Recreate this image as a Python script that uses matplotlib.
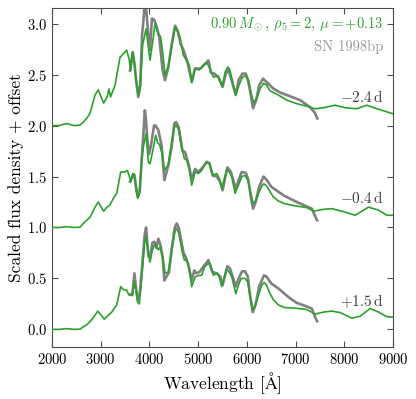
import numpy as np
import matplotlib
matplotlib.use('Agg')
import matplotlib.pyplot as plt

plt.rcParams['font.family'] = 'serif'
plt.rcParams['font.serif'] = ['cmr10']
plt.rcParams['mathtext.fontset'] = 'cm'
plt.rcParams['axes.formatter.use_mathtext'] = True

# model spectra (green), values already include the offset
w_mod_bot = [2000, 2150, 2300, 2450, 2575, 2643, 2710, 2780, 2883, 2940, 2990, 3074, 3157, 3225, 3328, 3410,
             3465, 3533, 3575, 3601, 3650, 3691, 3725, 3755, 3793, 3810, 3862, 3900, 3930, 3977, 4012, 4060,
             4115, 4183, 4217, 4272, 4320, 4388, 4457, 4525, 4560, 4605, 4663, 4716, 4765, 4812, 4867, 4936,
             5004, 5073, 5127, 5196, 5244, 5312, 5381, 5429, 5484, 5538, 5586, 5634, 5689, 5737, 5771, 5826,
             5880, 5962, 6017, 6065, 6113, 6168, 6236, 6305, 6353, 6400, 6475, 6543, 6646, 6769, 6955, 7229,
             7400, 7571, 7742, 7913, 8153, 8324, 8529, 8700, 8871, 9000]
f_mod_bot = [0.0, 0.0, 0.008, 0.0, 0.003, 0.025, 0.045, 0.075, 0.14, 0.18, 0.15, 0.10, 0.14, 0.17, 0.24, 0.42,
             0.39, 0.385, 0.34, 0.345, 0.33, 0.47, 0.385, 0.27, 0.25, 0.35, 0.62, 0.85, 0.91, 0.745, 0.66, 0.78,
             0.84, 0.78, 0.81, 0.71, 0.55, 0.565, 0.78, 0.97, 0.99, 0.94, 0.78, 0.68, 0.68, 0.60, 0.42, 0.515,
             0.53, 0.53, 0.61, 0.645, 0.645, 0.53, 0.555, 0.52, 0.42, 0.515, 0.59, 0.565, 0.515, 0.42, 0.35, 0.435,
             0.50, 0.50, 0.465, 0.32, 0.19, 0.22, 0.335, 0.435, 0.46, 0.435, 0.35, 0.29, 0.24, 0.215, 0.21, 0.195,
             0.15, 0.17, 0.18, 0.165, 0.11, 0.13, 0.205, 0.17, 0.125, 0.12]

w_mod_mid = [2000, 2150, 2300, 2450, 2575, 2643, 2710, 2780, 2883, 2951, 3020, 3060, 3130, 3180, 3259, 3328,
             3410, 3499, 3547, 3588, 3622, 3656, 3690, 3725, 3759, 3794, 3841, 3875, 3930, 3978, 4012, 4067,
             4129, 4170, 4210, 4258, 4306, 4388, 4457, 4511, 4545, 4593, 4648, 4716, 4765, 4812, 4867, 4936,
             5004, 5073, 5127, 5175, 5230, 5298, 5381, 5436, 5484, 5538, 5586, 5640, 5689, 5757, 5826, 5894,
             5962, 6017, 6072, 6127, 6181, 6250, 6305, 6346, 6408, 6475, 6543, 6646, 6769, 6955, 7229, 7370,
             7600, 7742, 7981, 8222, 8495, 8700, 8871, 9000]
f_mod_mid = [1.0, 1.0, 1.008, 1.0, 1.003, 1.04, 1.07, 1.10, 1.20, 1.25, 1.19, 1.16, 1.20, 1.215, 1.285, 1.335,
             1.545, 1.545, 1.56, 1.50, 1.45, 1.53, 1.515, 1.365, 1.285, 1.335, 1.66, 1.79, 1.92, 1.64, 1.625, 1.75,
             1.905, 1.83, 1.81, 1.725, 1.56, 1.62, 1.84, 1.985, 2.00, 1.97, 1.82, 1.675, 1.66, 1.58, 1.415, 1.545,
             1.53, 1.56, 1.61, 1.635, 1.63, 1.51, 1.53, 1.48, 1.38, 1.48, 1.57, 1.545, 1.50, 1.335, 1.415, 1.50,
             1.51, 1.465, 1.35, 1.24, 1.26, 1.35, 1.405, 1.43, 1.405, 1.35, 1.30, 1.26, 1.235, 1.215, 1.195, 1.16,
             1.18, 1.185, 1.155, 1.12, 1.20, 1.17, 1.12, 1.12]

w_mod_top = [2000, 2150, 2300, 2450, 2575, 2643, 2710, 2780, 2883, 2951, 3020, 3060, 3130, 3170, 3200, 3293,
             3396, 3465, 3533, 3581, 3615, 3656, 3690, 3725, 3773, 3807, 3862, 3896, 3930, 3978, 4012, 4060,
             4115, 4183, 4230, 4286, 4320, 4388, 4457, 4525, 4580, 4626, 4695, 4763, 4820, 4870, 4936, 5018,
             5107, 5175, 5230, 5312, 5401, 5450, 5497, 5552, 5607, 5650, 5700, 5771, 5840, 5908, 5976, 6030,
             6080, 6134, 6200, 6270, 6339, 6400, 6477, 6646, 6817, 7023, 7229, 7400, 7571, 7810, 8015, 8255,
             8460, 8666, 8871, 9000]
f_mod_top = [2.0, 2.0, 2.02, 2.0, 2.005, 2.035, 2.07, 2.12, 2.30, 2.35, 2.265, 2.22, 2.28, 2.36, 2.28, 2.395,
             2.67, 2.705, 2.74, 2.655, 2.54, 2.72, 2.61, 2.445, 2.30, 2.345, 2.80, 2.87, 2.95, 2.77, 2.64, 2.80,
             3.0, 2.90, 2.87, 2.655, 2.49, 2.59, 2.77, 2.965, 2.92, 2.87, 2.69, 2.64, 2.59, 2.42, 2.56, 2.545,
             2.595, 2.615, 2.57, 2.475, 2.49, 2.44, 2.38, 2.525, 2.575, 2.545, 2.445, 2.305, 2.40, 2.475, 2.49, 2.445,
             2.33, 2.23, 2.265, 2.36, 2.415, 2.40, 2.34, 2.30, 2.25, 2.215, 2.19, 2.165, 2.175, 2.20, 2.175, 2.165,
             2.20, 2.165, 2.135, 2.115]

# observed SN 1998bp spectra (grey)
w_obs_bot = [3600, 3650, 3691, 3725, 3760, 3800, 3850, 3900, 3930, 3978, 4012, 4060, 4100, 4140, 4183, 4230,
             4272, 4306, 4350, 4400, 4460, 4520, 4560, 4605, 4700, 4740, 4800, 4867, 4920, 4960, 5030, 5127,
             5210, 5290, 5380, 5450, 5500, 5550, 5600, 5650, 5720, 5770, 5830, 5900, 5960, 6017, 6060, 6120,
             6180, 6250, 6350, 6400, 6500, 6650, 6770, 6900, 7024, 7200, 7331, 7400, 7440]
f_obs_bot = [0.34, 0.35, 0.55, 0.40, 0.29, 0.35, 0.62, 0.92, 1.0, 0.72, 0.70, 0.85, 0.86, 0.80, 0.89, 0.82,
             0.70, 0.48, 0.52, 0.56, 0.80, 1.0, 1.04, 0.99, 0.75, 0.715, 0.63, 0.48, 0.58, 0.55, 0.565, 0.63,
             0.68, 0.565, 0.55, 0.52, 0.435, 0.53, 0.62, 0.60, 0.50, 0.42, 0.50, 0.57, 0.57, 0.52, 0.35, 0.17,
             0.25, 0.42, 0.53, 0.52, 0.45, 0.40, 0.35, 0.30, 0.26, 0.23, 0.205, 0.12, 0.08]

w_obs_mid = [3600, 3650, 3690, 3725, 3762, 3800, 3845, 3880, 3905, 3930, 3960, 3990, 4030, 4094, 4125, 4183,
             4251, 4306, 4388, 4457, 4511, 4545, 4600, 4675, 4730, 4800, 4867, 4936, 5004, 5100, 5175, 5230,
             5298, 5380, 5450, 5500, 5550, 5600, 5670, 5720, 5770, 5840, 5894, 5980, 6030, 6085, 6127, 6180,
             6250, 6340, 6408, 6500, 6646, 6770, 7024, 7331, 7400, 7440]
f_obs_mid = [1.45, 1.50, 1.52, 1.40, 1.30, 1.35, 1.70, 1.95, 2.15, 2.05, 1.85, 1.72, 1.80, 2.00, 2.00, 1.955,
             1.80, 1.465, 1.61, 1.80, 2.02, 2.035, 1.985, 1.755, 1.74, 1.625, 1.48, 1.575, 1.545, 1.595, 1.645, 1.63,
             1.51, 1.50, 1.45, 1.365, 1.48, 1.59, 1.545, 1.465, 1.38, 1.48, 1.545, 1.535, 1.465, 1.285, 1.185, 1.25,
             1.40, 1.50, 1.465, 1.40, 1.35, 1.31, 1.25, 1.185, 1.11, 1.07]

w_obs_top = [3600, 3656, 3690, 3725, 3770, 3810, 3850, 3880, 3910, 3940, 3975, 4012, 4050, 4094, 4140, 4200,
             4270, 4320, 4388, 4457, 4525, 4580, 4640, 4700, 4780, 4867, 4936, 5050, 5150, 5210, 5260, 5330,
             5420, 5500, 5560, 5620, 5700, 5771, 5830, 5908, 5976, 6030, 6080, 6125, 6190, 6250, 6330, 6420,
             6550, 6700, 6817, 7092, 7297, 7400, 7444]
f_obs_top = [2.54, 2.72, 2.62, 2.45, 2.28, 2.40, 2.90, 3.05, 3.25, 3.10, 2.90, 2.74, 3.05, 3.04, 2.98, 2.87,
             2.54, 2.445, 2.575, 2.80, 2.98, 2.93, 2.80, 2.74, 2.62, 2.43, 2.56, 2.56, 2.61, 2.64, 2.52, 2.51,
             2.47, 2.38, 2.50, 2.55, 2.42, 2.30, 2.45, 2.51, 2.51, 2.43, 2.30, 2.17, 2.25, 2.395, 2.46, 2.42,
             2.36, 2.32, 2.30, 2.25, 2.18, 2.12, 2.07]

epoch_labels = [r'$+1.5\,\mathrm{d}$', r'$-0.4\,\mathrm{d}$', r'$-2.4\,\mathrm{d}$']
epoch_label_y = [0.28, 1.285, 2.28]

green = '#2ca02c'
grey = '#808080'

fig = plt.figure(figsize=(4.16, 3.99), dpi=100)
ax = fig.add_axes([0.125, 0.131, 0.82, 0.848])

obs = [(w_obs_bot, f_obs_bot), (w_obs_mid, f_obs_mid), (w_obs_top, f_obs_top)]
mod = [(w_mod_bot, f_mod_bot), (w_mod_mid, f_mod_mid), (w_mod_top, f_mod_top)]
for (wo, fo), (wm, fm), lab, ly in zip(obs, mod, epoch_labels, epoch_label_y):
    ax.plot(wo, fo, color=grey, lw=1.9, zorder=2)
    ax.plot(wm, fm, color=green, lw=1.2, zorder=3)
    ax.text(8800, ly, lab, ha='right', va='center', fontsize=11, color='0.25')

ax.text(0.972, 0.953, r'$0.90\,M_\odot$, $\rho_5 = 2$, $\mu = +0.13$', transform=ax.transAxes,
        ha='right', va='center', fontsize=10.5, color=green)
ax.text(0.972, 0.885, 'SN 1998bp', transform=ax.transAxes, ha='right', va='center',
        fontsize=10.5, color='#999999')

ax.set_xlim(2000, 9000)
ax.set_ylim(-0.17, 3.15)
ax.set_xticks(np.arange(2000, 9001, 1000))
ax.set_yticks(np.arange(0, 3.01, 0.5))
ax.tick_params(direction='in', top=True, right=True, labelsize=10.5, length=4, color='0.3')
for s in ax.spines.values():
    s.set_color('0.3')
ax.set_xlabel(r'Wavelength [$\mathrm{\AA}$]', fontsize=12.5, labelpad=3)
ax.set_ylabel('Scaled flux density + offset', fontsize=12.5, labelpad=2)

fig.savefig('out.png', dpi=100)
